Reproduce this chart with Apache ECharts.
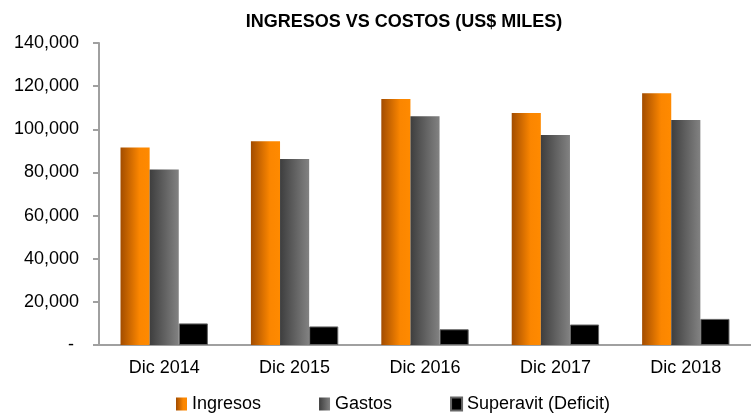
<!DOCTYPE html>
<html>
<head>
<meta charset="utf-8">
<script src="https://cdn.jsdelivr.net/npm/echarts@6/dist/echarts.min.js"></script>
<style>
  html, body { margin: 0; padding: 0; background: #fff; }
  #chart { width: 751px; height: 415px; }
</style>
</head>
<body>
<div id="chart"></div>
<script>
const categories = ['Dic 2014', 'Dic 2015', 'Dic 2016', 'Dic 2017', 'Dic 2018']
const ingresos = [91600, 94400, 114000, 107500, 116700]
const gastos = [81400, 86200, 106100, 97400, 104300]
const superavit = [10000, 8600, 7300, 9500, 12100]
const yTicks = [0, 20000, 40000, 60000, 80000, 100000, 120000, 140000]

const font = '"Liberation Sans", Arial, sans-serif'
const axisGrey = '#a0a0a0'

function grad(stops) {
  return new echarts.graphic.LinearGradient(0, 0, 1, 0, stops)
}

const chart = echarts.init(document.getElementById('chart'))

const option = {
  animation: false,
  title: {
    text: 'INGRESOS VS COSTOS (US$ MILES)',
    left: 399,
    textAlign: 'center',
    top: 8,
    textStyle: { fontFamily: font, fontSize: 18, fontWeight: 'bold', color: '#000' }
  },
  legend: {
    left: 176,
    top: 395,
    padding: 0,
    itemWidth: 11,
    itemHeight: 13,
    itemGap: 58,
    icon: 'rect',
    textStyle: { fontFamily: font, fontSize: 18, color: '#000' },
    data: ['Ingresos', 'Gastos', 'Superavit (Deficit)']
  },
  grid: {
    left: 99,
    top: 43,
    bottom: 70,
    right: -11
  },
  xAxis: {
    type: 'category',
    data: categories,
    axisLine: { lineStyle: { color: axisGrey, width: 2 } },
    axisTick: { length: 5, lineStyle: { color: axisGrey, width: 2 } },
    axisLabel: { fontFamily: font, fontSize: 18, color: '#000', margin: 14 }
  },
  yAxis: {
    type: 'value',
    min: yTicks[0],
    max: yTicks[yTicks.length - 1],
    interval: 20000,
    splitLine: { show: false },
    axisLine: { show: true, lineStyle: { color: axisGrey, width: 2 } },
    axisTick: { show: true, length: 6, lineStyle: { color: axisGrey, width: 2 } },
    axisLabel: {
      fontFamily: font,
      fontSize: 18,
      color: '#000',
      margin: 20,
      formatter: v => v === 0 ? '- ' : v.toLocaleString('en-US')
    }
  },
  series: [
    {
      name: 'Ingresos',
      type: 'bar',
      barGap: '0%',
      barCategoryGap: '33%',
      data: ingresos,
      itemStyle: {
        color: grad([
          { offset: 0, color: '#a24c00' },
          { offset: 0.65, color: '#fb8600' },
          { offset: 1, color: '#ff8a00' }
        ])
      }
    },
    {
      name: 'Gastos',
      type: 'bar',
      data: gastos,
      itemStyle: {
        color: grad([
          { offset: 0, color: '#3e3e3e' },
          { offset: 1, color: '#828282' }
        ])
      }
    },
    {
      name: 'Superavit (Deficit)',
      type: 'bar',
      data: superavit,
      itemStyle: { color: '#000', borderColor: '#666', borderWidth: 1 }
    }
  ]
}

chart.setOption(option)
</script>
</body>
</html>
